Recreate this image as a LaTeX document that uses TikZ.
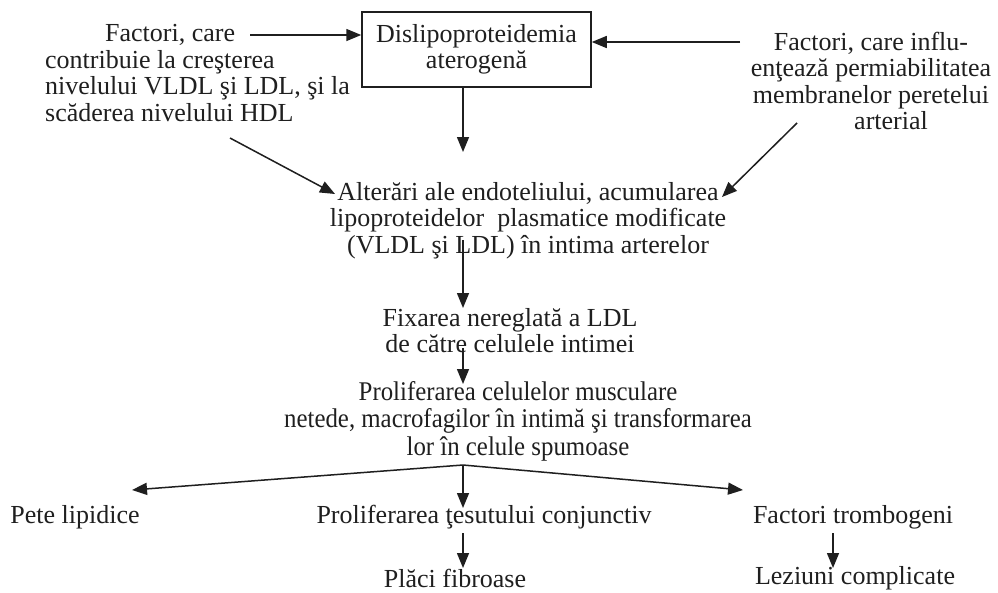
\documentclass[tikz,border=0pt]{standalone}
\usepackage{fontspec}
\setmainfont{Liberation Serif}
\newfontfamily\condfont[FakeStretch=0.92]{Liberation Serif}
\usetikzlibrary{arrows.meta}
\begin{document}
\begin{tikzpicture}[x=1pt,y=-1pt,
  txt/.style={font=\fontsize{26}{26.5}\selectfont, inner sep=0pt, align=center, text=black!88},
  ctxt/.style={txt, font=\condfont\fontsize{27}{27.5}\selectfont},
  arr/.style={line width=1.5pt, draw=black!88, -{Triangle[length=15pt,width=12pt]}},
  boxst/.style={draw=black!88, line width=1.5pt, minimum width=229pt, minimum height=75pt, inner sep=0pt}]
\useasboundingbox[fill=white] (0,0) rectangle (998,592);

\node[txt, boxst] (box) at (476.5,49.5) {Dislipoproteidemia\\aterogenă};
\node[txt, align=left, anchor=west] (lf) at (45,73) {\hspace*{60pt}Factori, care\\contribuie la creşterea\\nivelului VLDL şi LDL, şi la\\scăderea nivelului HDL};
\node[txt] (rt) at (871,81) {Factori, care influ-\\enţează permiabilitatea\\membranelor peretelui\\\hspace*{40pt}arterial};
\node[txt] (alt) at (528,220.5) {Alterări ale endoteliului, acumularea\\lipoproteidelor\ \ plasmatice modificate\\(VLDL şi LDL) în intima arterelor};
\node[txt] (fix) at (510,330.5) {Fixarea nereglată a LDL\\de către celulele intimei};
\node[ctxt] (prol) at (518,421) {Proliferarea celulelor musculare\\netede, macrofagilor în intimă şi transformarea\\lor în celule spumoase};
\node[txt] (pete) at (75,517) {Pete lipidice};
\node[txt] (tes) at (484,517) {Proliferarea ţesutului conjunctiv};
\node[txt] (trom) at (853,517) {Factori trombogeni};
\node[txt] (plac) at (455,578) {Plăci fibroase};
\node[txt] (lez) at (855,578) {Leziuni complicate};

\coordinate (a1s) at (250,35);
\coordinate (a2s) at (740,42);
\coordinate (c1) at (463,152);
\coordinate (d1s) at (230,138);
\coordinate (d1e) at (335,194);
\coordinate (d2s) at (797,123);
\coordinate (d2e) at (722,197);
\coordinate (v1s) at (463,240);
\coordinate (v1e) at (463,308);
\coordinate (v2s) at (463,348);
\coordinate (v2e) at (463,384);
\coordinate (apex) at (463,465);
\coordinate (bl) at (132,490);
\coordinate (bm) at (463,508);
\coordinate (br) at (743,490);
\coordinate (m1s) at (463,533);
\coordinate (m1e) at (463,568);
\coordinate (r1s) at (833,533);
\coordinate (r1e) at (833,568);

\draw[arr] (a1s) -- (box.west |- a1s);
\draw[arr] (a2s) -- (box.east |- a2s);
\draw[arr] (box.south -| c1) -- (c1);
\draw[arr] (d1s) -- (d1e);
\draw[arr] (d2s) -- (d2e);
\draw[arr] (v1s) -- (v1e);
\draw[arr] (v2s) -- (v2e);
\draw[arr] (apex) -- (bl);
\draw[arr] (apex) -- (bm);
\draw[arr] (apex) -- (br);
\draw[arr] (m1s) -- (m1e);
\draw[arr] (r1s) -- (r1e);
\end{tikzpicture}
\end{document}
